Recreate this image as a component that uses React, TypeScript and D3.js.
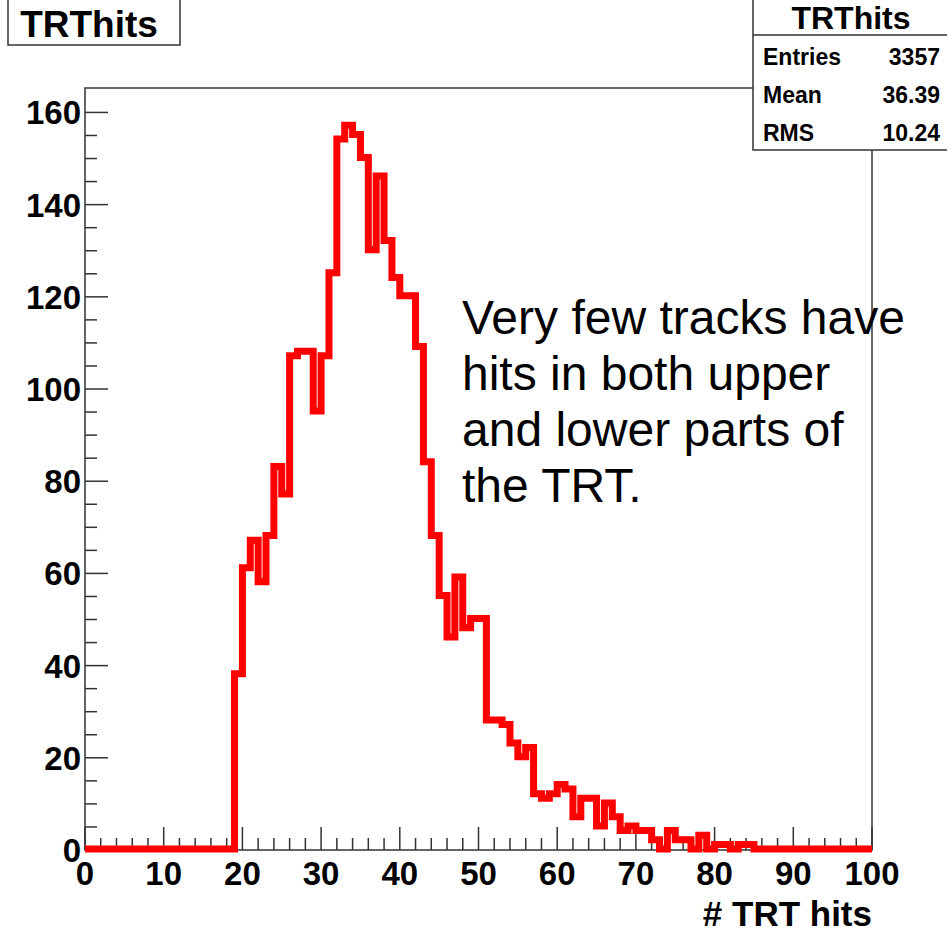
import * as d3 from "d3";

// entries per 1-hit bin, bins [0,1) ... [99,100)
const counts = [
  0, 0, 0, 0, 0, 0, 0, 0, 0, 0,
  0, 0, 0, 0, 0, 0, 0, 0, 0, 38,
  61, 67, 58, 68, 83, 77, 107, 108, 108, 95,
  107, 125, 154, 157, 155, 150, 130, 146, 132, 124,
  120, 120, 109, 84, 68, 55, 46, 59, 48, 50,
  50, 28, 28, 27, 23, 20, 22, 12, 11, 12,
  14, 13, 7, 11, 11, 5, 10, 7, 4, 5,
  4, 4, 2, 0, 4, 2, 2, 0, 3, 0,
  1, 1, 0, 1, 1, 0, 0, 0, 0, 0,
  0, 0, 0, 0, 0, 0, 0, 0, 0, 0,
];

const xTicks = [0, 10, 20, 30, 40, 50, 60, 70, 80, 90, 100];
const yTicks = [0, 20, 40, 60, 80, 100, 120, 140, 160];
const statLabels = ["Entries", "Mean", "RMS"];
const statValues = ["3357", "36.39", "10.24"];
const noteLines = [
  "Very few tracks have",
  "hits in both upper",
  "and lower parts of",
  "the TRT.",
];

const W = 947;
const H = 931;
const margin = { left: 85, right: 75, top: 88, bottom: 81 };
const font = "Liberation Sans, Arial, Helvetica, sans-serif";

export default function App() {
  const x = d3
    .scaleLinear()
    .domain([0, 100])
    .range([margin.left, W - margin.right]);
  const y = d3
    .scaleLinear()
    .domain([0, 165.3])
    .range([H - margin.bottom, margin.top]);

  const pts: [number, number][] = counts.map((c, i) => [i, c]);
  pts.push([100, counts[counts.length - 1]]);
  const line = d3
    .line<[number, number]>()
    .x((d) => x(d[0]))
    .y((d) => y(d[1]) - 1)
    .curve(d3.curveStepAfter);

  const xMinor = d3.range(0, 101, 2).filter((v) => v % 10 !== 0);
  const yMinor = d3.range(0, 165, 5).filter((v) => v % 20 !== 0);
  const y0 = y(0);
  const x0 = x(0);
  const tickCol = "#333";

  return (
    <svg
      width={W}
      height={H}
      style={{ position: "absolute", left: 0, top: 0, background: "#fff" }}
      fontFamily={font}
    >
      {/* frame */}
      <rect
        x={x0}
        y={margin.top}
        width={x(100) - x0}
        height={y0 - margin.top}
        fill="none"
        stroke={tickCol}
        strokeWidth={1.5}
      />
      {/* x ticks */}
      {xTicks.map((t) => (
        <line key={"xt" + t} x1={x(t)} x2={x(t)} y1={y0} y2={y0 - 23} stroke={tickCol} strokeWidth={1.5} />
      ))}
      {xMinor.map((t) => (
        <line key={"xm" + t} x1={x(t)} x2={x(t)} y1={y0} y2={y0 - 12} stroke={tickCol} strokeWidth={1.5} />
      ))}
      {/* y ticks */}
      {yTicks.map((t) => (
        <line key={"yt" + t} x1={x0} x2={x0 + 23} y1={y(t)} y2={y(t)} stroke={tickCol} strokeWidth={1.5} />
      ))}
      {yMinor.map((t) => (
        <line key={"ym" + t} x1={x0} x2={x0 + 12} y1={y(t)} y2={y(t)} stroke={tickCol} strokeWidth={1.5} />
      ))}

      {/* histogram */}
      <path d={line(pts) ?? ""} fill="none" stroke="#ff0000" strokeWidth={7} strokeLinejoin="miter" />

      {/* tick labels */}
      {xTicks.map((t) => (
        <text key={"xl" + t} x={x(t)} y={y0 + 35} textAnchor="middle" fontSize={33} fontWeight="bold" fill="#000">
          {t}
        </text>
      ))}
      {yTicks.map((t) => (
        <text key={"yl" + t} x={x0 - 4} y={y(t) + 12} textAnchor="end" fontSize={33} fontWeight="bold" fill="#000">
          {t}
        </text>
      ))}
      <text x={x(100)} y={926} textAnchor="end" fontSize={35} fontWeight="bold" fill="#000">
        # TRT hits
      </text>

      {/* annotation */}
      {noteLines.map((s, i) => (
        <text key={"n" + i} x={462} y={334 + i * 56} fontSize={48} fill="#000">
          {s}
        </text>
      ))}

      {/* title box */}
      <rect x={8} y={-2} width={172} height={47} fill="#fff" stroke={tickCol} strokeWidth={1.5} />
      <text x={89} y={37} textAnchor="middle" fontSize={37} fontWeight="bold" fill="#000">
        TRThits
      </text>

      {/* stats box */}
      <rect x={753} y={-2} width={196} height={152} fill="#fff" stroke={tickCol} strokeWidth={1.5} />
      <line x1={753} x2={947} y1={35} y2={35} stroke={tickCol} strokeWidth={1.5} />
      <text x={851} y={29} textAnchor="middle" fontSize={32} fontWeight="bold" fill="#000">
        TRThits
      </text>
      {statLabels.map((s, i) => (
        <g key={"s" + i}>
          <text x={763} y={65 + i * 38} fontSize={23} fontWeight="bold" fill="#000">
            {s}
          </text>
          <text x={940} y={65 + i * 38} textAnchor="end" fontSize={23} fontWeight="bold" fill="#000">
            {statValues[i]}
          </text>
        </g>
      ))}
    </svg>
  );
}
